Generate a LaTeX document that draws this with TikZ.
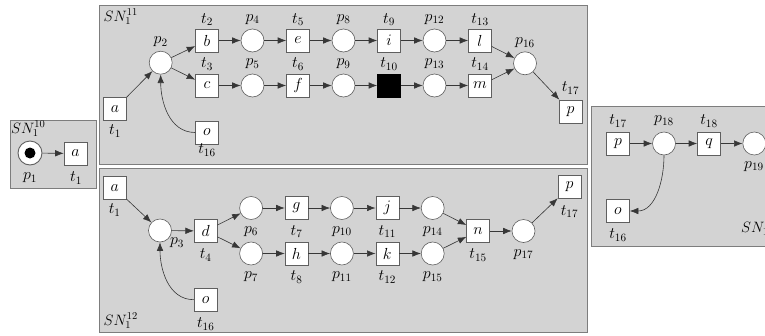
\RequirePackage{fix-cm}
\documentclass[tikz,border=0pt]{standalone}
\usetikzlibrary{arrows.meta}
\definecolor{netfill}{RGB}{211,211,211}
\definecolor{netborder}{RGB}{125,125,125}
\definecolor{nodeborder}{RGB}{95,95,95}
\definecolor{arccolor}{RGB}{55,55,55}
\begin{document}
\begin{tikzpicture}[x=1pt,y=-1pt,
  every node/.style={font=\fontsize{16}{19}\selectfont},
  net/.style={draw=netborder, fill=netfill, line width=0.9pt},
  trans/.style={draw=nodeborder, fill=white, minimum size=23pt, inner sep=0pt, line width=0.6pt},
  fired/.style={trans, fill=black, draw=black},
  place/.style={circle, draw=nodeborder, fill=white, minimum size=23pt, inner sep=0pt, line width=0.6pt},
  token/.style={circle, fill=black, minimum size=11pt, inner sep=0pt},
  lab/.style={inner sep=0pt},
  netlab/.style={inner sep=0pt, anchor=west, font=\fontsize{15}{18}\selectfont},
  arc/.style={draw=arccolor, line width=0.6pt, -{Latex[length=8.5pt,width=6.5pt]}},
]
\useasboundingbox (0,0) rectangle (765,335);
\clip (0,0) rectangle (765,335);

% ---------- subnet SN_1^10 ----------
\draw[net] (10,120) rectangle (96,188);
\node[netlab] (sn10) at (11,129) {$SN_1^{10}$};
\node[place, line width=0.9pt, minimum size=24pt] (p1) at (30,153) {};
\node[token] (tok) at (p1) {};
\node[trans] (a0) at (75.5,153.5) {$a$};
\node[lab] (l-p1) at (30,178) {$p_1$};
\node[lab] (l-a0) at (76,178) {$t_1$};
\draw[arc] (p1) -- (a0);

% ---------- subnet SN_1^11 ----------
\draw[net] (99.5,5) rectangle (587,164);
\node[netlab] (sn11) at (103.5,17) {$SN_1^{11}$};
\node[trans] (a1) at (115,109) {$a$};
\node[place] (p2) at (160.7,62.7) {};
\node[trans] (b) at (207,40.5) {$b$};
\node[place] (p4) at (252.5,40.5) {};
\node[trans] (e) at (298,40.5) {$e$};
\node[place] (p8) at (343.5,40.5) {};
\node[trans] (i) at (389,40.5) {$i$};
\node[place] (p12) at (434.5,40.5) {};
\node[trans] (l) at (480,40.5) {$l$};
\node[trans] (c) at (207,85.5) {$c$};
\node[place] (p5) at (252.5,85.5) {};
\node[trans] (f) at (298,85.5) {$f$};
\node[place] (p9) at (343.5,85.5) {};
\node[fired] (t10) at (389,85.5) {};
\node[place] (p13) at (434.5,85.5) {};
\node[trans] (m) at (480,85.5) {$m$};
\node[place] (p16) at (525,63.3) {};
\node[trans] (p1a) at (570.5,111.5) {$p$};
\node[trans] (o1) at (207,132.5) {$o$};

\node[lab] (l-a1) at (115,131) {$t_1$};
\node[lab] (l-p2) at (160.7,42) {$p_2$};
\node[lab] (l-b) at (207,19.5) {$t_2$};
\node[lab] (l-p4) at (252.5,19.5) {$p_4$};
\node[lab] (l-e) at (298,19.5) {$t_5$};
\node[lab] (l-p8) at (343.5,19.5) {$p_8$};
\node[lab] (l-i) at (389,19.5) {$t_9$};
\node[lab] (l-p12) at (434.5,19.5) {$p_{12}$};
\node[lab] (l-l) at (480,19.5) {$t_{13}$};
\node[lab] (l-c) at (207,64) {$t_3$};
\node[lab] (l-p5) at (252.5,64) {$p_5$};
\node[lab] (l-f) at (298,64) {$t_6$};
\node[lab] (l-p9) at (343.5,64) {$p_9$};
\node[lab] (l-t10) at (389,64) {$t_{10}$};
\node[lab] (l-p13) at (434.5,64) {$p_{13}$};
\node[lab] (l-m) at (480,64) {$t_{14}$};
\node[lab] (l-p16) at (525,43) {$p_{16}$};
\node[lab] (l-p1a) at (570.5,88) {$t_{17}$};
\node[lab] (l-o1) at (207,150) {$t_{16}$};

\draw[arc] (a1) -- (p2);
\draw[arc] (p2) -- (b);
\draw[arc] (p2) -- (c);
\draw[arc] (b) -- (p4);
\draw[arc] (p4) -- (e);
\draw[arc] (e) -- (p8);
\draw[arc] (p8) -- (i);
\draw[arc] (i) -- (p12);
\draw[arc] (p12) -- (l);
\draw[arc] (l) -- (p16);
\draw[arc] (c) -- (p5);
\draw[arc] (p5) -- (f);
\draw[arc] (f) -- (p9);
\draw[arc] (p9) -- (t10);
\draw[arc] (t10) -- (p13);
\draw[arc] (p13) -- (m);
\draw[arc] (m) -- (p16);
\draw[arc] (p16) -- (p1a);
\draw[arc] (o1) to[out=180,in=-90] (p2);

% ---------- subnet SN_1^12 ----------
\draw[net] (99.5,168) rectangle (587,332.5);
\node[netlab] (sn12) at (103.5,321) {$SN_1^{12}$};
\node[trans] (a2) at (114.7,188) {$a$};
\node[place] (p3) at (160,230.5) {};
\node[trans] (d) at (205.7,231) {$d$};
\node[place] (p6) at (251.1,208) {};
\node[trans] (g) at (296.5,208) {$g$};
\node[place] (p10) at (341.9,208) {};
\node[trans] (j) at (387.3,208) {$j$};
\node[place] (p14) at (432.7,208) {};
\node[place] (p7) at (251.1,253.5) {};
\node[trans] (h) at (296.5,253.5) {$h$};
\node[place] (p11) at (341.9,253.5) {};
\node[trans] (k) at (387.3,253.5) {$k$};
\node[place] (p15) at (432.7,253.5) {};
\node[trans] (n) at (478.1,231) {$n$};
\node[place] (p17) at (523.5,231) {};
\node[trans] (p2a) at (569.5,187) {$p$};
\node[trans] (o2) at (205.7,299.7) {$o$};

\node[lab] (l-a2) at (114.7,210) {$t_1$};
\node[lab] (l-p3) at (177,243) {$p_3$};
\node[lab] (l-d) at (205.7,255) {$t_4$};
\node[lab] (l-p6) at (251.1,231.5) {$p_6$};
\node[lab] (l-g) at (296.5,231.5) {$t_7$};
\node[lab] (l-p10) at (341.9,231.5) {$p_{10}$};
\node[lab] (l-j) at (387.3,231.5) {$t_{11}$};
\node[lab] (l-p14) at (432.7,231.5) {$p_{14}$};
\node[lab] (l-p7) at (251.1,277) {$p_7$};
\node[lab] (l-h) at (296.5,277) {$t_8$};
\node[lab] (l-p11) at (341.9,277) {$p_{11}$};
\node[lab] (l-k) at (387.3,277) {$t_{12}$};
\node[lab] (l-p15) at (432.7,277) {$p_{15}$};
\node[lab] (l-n) at (478.1,255) {$t_{15}$};
\node[lab] (l-p17) at (523.5,254.5) {$p_{17}$};
\node[lab] (l-p2a) at (569.5,211.5) {$t_{17}$};
\node[lab] (l-o2) at (205.7,324) {$t_{16}$};

\draw[arc] (a2) -- (p3);
\draw[arc] (o2) to[out=180,in=-90] (p3);
\draw[arc] (p3) -- (d);
\draw[arc] (d) -- (p6);
\draw[arc] (d) -- (p7);
\draw[arc] (p6) -- (g);
\draw[arc] (g) -- (p10);
\draw[arc] (p10) -- (j);
\draw[arc] (j) -- (p14);
\draw[arc] (p14) -- (n);
\draw[arc] (p7) -- (h);
\draw[arc] (h) -- (p11);
\draw[arc] (p11) -- (k);
\draw[arc] (k) -- (p15);
\draw[arc] (p15) -- (n);
\draw[arc] (n) -- (p17);
\draw[arc] (p17) -- (p2a);

% ---------- subnet SN_1^13 ----------
\draw[net] (591,106) rectangle (790,246);
\node[netlab] (sn13) at (741,228) {$SN_1^{13}$};
\node[trans] (p3a) at (618,143.5) {$p$};
\node[place] (p18) at (664,143.5) {};
\node[trans] (q) at (709,143.5) {$q$};
\node[place] (p19) at (754.3,143.5) {};
\node[trans] (o3) at (618,211) {$o$};

\node[lab] (l-p3a) at (618,121) {$t_{17}$};
\node[lab] (l-p18) at (664,121) {$p_{18}$};
\node[lab] (l-q) at (709,121) {$t_{18}$};
\node[lab] (l-p19) at (754,166.5) {$p_{19}$};
\node[lab] (l-o3) at (618,235) {$t_{16}$};

\draw[arc] (p3a) -- (p18);
\draw[arc] (p18) -- (q);
\draw[arc] (q) -- (p19);
\draw[arc] (p18) to[out=-90,in=0] (o3);
\end{tikzpicture}
\end{document}
